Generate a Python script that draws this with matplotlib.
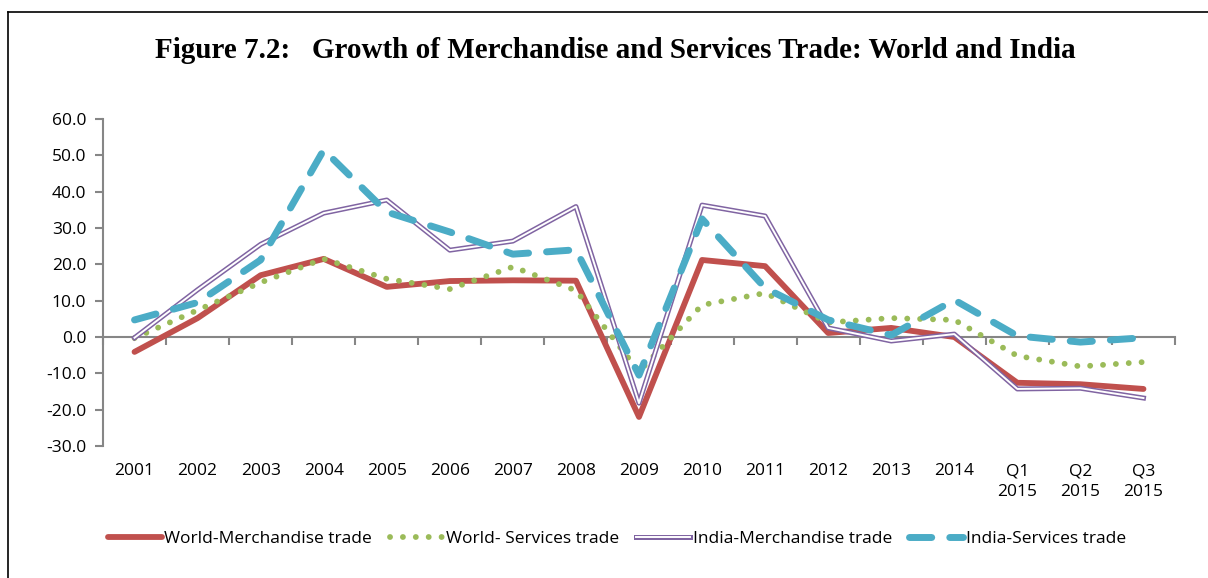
import matplotlib.pyplot as plt
from matplotlib.lines import Line2D
import numpy as np

# Growth rates (%)
periods = ['2001', '2002', '2003', '2004', '2005', '2006', '2007', '2008', '2009',
           '2010', '2011', '2012', '2013', '2014', 'Q1\n2015', 'Q2\n2015', 'Q3\n2015']
world_merch = [-4.1, 5.2, 17.0, 21.5, 13.8, 15.4, 15.6, 15.5, -22.0,
               21.2, 19.5, 1.1, 2.5, 0.0, -12.6, -13.0, -14.3]
world_serv = [-0.3, 7.4, 15.0, 21.5, 16.0, 13.2, 19.3, 12.8, -9.5,
              8.8, 12.1, 4.0, 5.2, 4.7, -5.2, -8.1, -6.9]
india_merch = [-0.2, 13.0, 25.5, 34.1, 37.7, 23.9, 26.4, 35.9, -18.2,
               36.3, 33.3, 2.5, -1.1, 0.8, -14.3, -14.1, -16.8]
india_serv = [4.7, 9.5, 21.2, 51.5, 34.4, 28.9, 22.8, 24.0, -10.5,
              32.5, 13.5, 4.7, 0.5, 10.2, 0.3, -1.4, -0.2]

c_red = '#C0504D'
c_green = '#9BBB59'
c_purple = '#8064A2'
c_cyan = '#4BACC6'
c_axis = '#868686'

dots = (0, (0.01, 2.2))
dashes = (0, (3.2, 2.6))

fig = plt.figure(figsize=(12.08, 5.78), dpi=100)
ax = fig.add_axes([103 / 1208, 1 - 446 / 578, (1175 - 103) / 1208, (446 - 119) / 578])

x = np.arange(len(periods)) + 0.5

ax.plot(x, world_merch, color=c_red, lw=4.2, solid_capstyle='round', zorder=3)
ax.plot(x, world_serv, color=c_green, lw=4.2, linestyle=dots,
        dash_capstyle='round', zorder=4)
ax.plot(x, india_merch, color=c_purple, lw=3.6, zorder=5)
ax.plot(x, india_merch, color='white', lw=1.4, zorder=6)
ax.plot(x, india_serv, color=c_cyan, lw=5, linestyle=dashes,
        dash_capstyle='round', zorder=7)

ax.set_xlim(0, len(periods))
ax.set_ylim(-30, 60)
ax.set_yticks(np.arange(-30, 61, 10))
ax.set_yticklabels([f'{v:.1f}' for v in np.arange(-30, 61, 10)])

for s in ['top', 'right']:
    ax.spines[s].set_visible(False)
ax.spines['bottom'].set_position(('data', 0))
ax.spines['left'].set_color(c_axis)
ax.spines['bottom'].set_color(c_axis)
ax.spines['left'].set_linewidth(1.5)
ax.spines['bottom'].set_linewidth(1.5)

ax.set_xticks(np.arange(len(periods) + 1))
ax.set_xticklabels([])
ax.tick_params(axis='x', direction='out', length=6, width=1.5, color=c_axis)
ax.tick_params(axis='y', direction='out', length=6, width=1.5, color=c_axis,
               labelsize=12.5, pad=6)
for lab in ax.get_yticklabels():
    lab.set_family('Open Sans')

# category labels sit below the plot area, not at the zero line
for xi, lab in zip(x, periods):
    ax.text(xi, -0.052, lab, transform=ax.get_xaxis_transform(), ha='center', va='top',
            fontsize=12.5, family='Open Sans', linespacing=1.45)

fig.text(0.509, 1 - 50 / 578, 'Figure 7.2:   Growth of Merchandise and Services Trade: World and India',
         ha='center', va='center', fontsize=21, fontweight='bold', family='Liberation Serif')

handles = [
    Line2D([], [], color=c_red, lw=4.2, solid_capstyle='round'),
    Line2D([], [], color=c_green, lw=4.2, linestyle=dots, dash_capstyle='round'),
    (Line2D([], [], color=c_purple, lw=3.6), Line2D([], [], color='white', lw=1.4)),
    Line2D([], [], color=c_cyan, lw=5, linestyle=dashes, dash_capstyle='round'),
]
labels = ['World-Merchandise trade', 'World- Services trade',
          'India-Merchandise trade', 'India-Services trade']
leg = fig.legend(handles, labels, loc='center', bbox_to_anchor=(617 / 1208, 1 - 539 / 578),
                 ncol=4, frameon=False, handlelength=3.1, handletextpad=0.15,
                 columnspacing=1.0, prop={'family': 'Open Sans', 'size': 12.5})

# outer frame
fig.add_artist(Line2D([8 / 1208, 8 / 1208], [0, 1 - 12 / 578], color='black', lw=1.2))
fig.add_artist(Line2D([8 / 1208, 1], [1 - 12 / 578, 1 - 12 / 578], color='black', lw=1.2))

fig.savefig('out.png', dpi=100)
